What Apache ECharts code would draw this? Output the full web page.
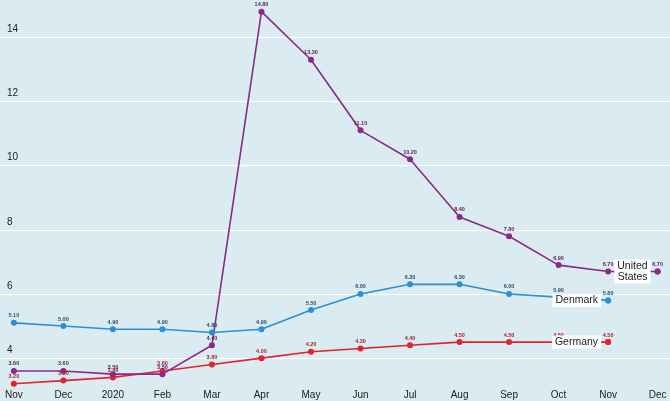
<!DOCTYPE html>
<html>
<head>
<meta charset="utf-8">
<script src="https://cdn.jsdelivr.net/npm/echarts@6/dist/echarts.min.js"></script>
<style>
html,body{margin:0;padding:0;background:#daebf1;}
#c{width:670px;height:401px;}
</style>
</head>
<body>
<div id="c"></div>
<script>
const categories = ['Nov','Dec','2020','Feb','Mar','Apr','May','Jun','Jul','Aug','Sep','Oct','Nov','Dec'];
const usValues = [3.6, 3.6, 3.5, 3.5, 4.4, 14.8, 13.3, 11.1, 10.2, 8.4, 7.8, 6.9, 6.7, 6.7];
const denmarkValues = [5.1, 5.0, 4.9, 4.9, 4.8, 4.9, 5.5, 6.0, 6.3, 6.3, 6.0, 5.9, 5.8];
const germanyValues = [3.2, 3.3, 3.4, 3.6, 3.8, 4.0, 4.2, 4.3, 4.4, 4.5, 4.5, 4.5, 4.5];
const yTicks = [4, 6, 8, 10, 12, 14];
const xTicks = categories.map((c, i) => i);

const FONT = "'Liberation Sans Narrow', 'Liberation Sans', Arial, sans-serif";

function makeSeries(name, values, color, labelColor, endName) {
  const last = values.length - 1;
  const pts = values.map((v, i) => [i, v]);
  return {
    name: name,
    type: 'line',
    data: pts,
    symbol: 'circle',
    symbolSize: 6,
    lineStyle: {color: color, width: 1.6},
    itemStyle: {color: color},
    label: {
      show: true,
      position: 'top',
      distance: 1,
      fontSize: 5.5,
      fontWeight: 'bold',
      fontFamily: 'Liberation Sans, Arial, sans-serif',
      color: labelColor,
      formatter: p => p.value[1].toFixed(2)
    },
    markPoint: {
      symbol: 'circle',
      symbolSize: 6,
      itemStyle: {color: color},
      label: {
        show: true,
        position: 'left',
        distance: 4,
        formatter: endName,
        backgroundColor: '#ffffff',
        padding: [1, 3, 1, 3],
        lineHeight: 11,
        fontSize: 10.5,
        fontFamily: FONT,
        color: '#222'
      },
      data: [{coord: pts[last], name: name}]
    },
    z: 2
  };
}

const chart = echarts.init(document.getElementById('c'));
chart.setOption({
  animation: false,
  backgroundColor: '#daebf1',
  grid: {left: 0, right: 0, top: 2, bottom: 14, containLabel: false},
  xAxis: {
    type: 'value',
    min: -0.28,
    max: 13.25,
    axisLine: {show: false},
    axisTick: {show: false, customValues: xTicks},
    splitLine: {show: false},
    axisLabel: {
      customValues: xTicks,
      formatter: v => categories[Math.round(v)],
      fontSize: 10, color: '#222', margin: 3, fontFamily: FONT
    }
  },
  yAxis: {
    type: 'value',
    min: 3.1,
    max: 15.1,
    axisLine: {show: false},
    axisTick: {show: false, customValues: yTicks},
    splitLine: {show: true, lineStyle: {color: '#ffffff', width: 1}},
    axisLabel: {
      customValues: yTicks,
      align: 'left',
      verticalAlign: 'bottom',
      margin: -7,
      padding: [0, 0, 3, 0],
      fontSize: 10,
      color: '#222',
      fontFamily: FONT
    }
  },
  series: [
    makeSeries('Germany', germanyValues, '#e2232f', '#a3262e', 'Germany'),
    makeSeries('Denmark', denmarkValues, '#2b8fd6', '#2d4c6e', 'Denmark'),
    makeSeries('United States', usValues, '#8b2a86', '#5e2459', 'United\nStates')
  ]
});
</script>
</body>
</html>
